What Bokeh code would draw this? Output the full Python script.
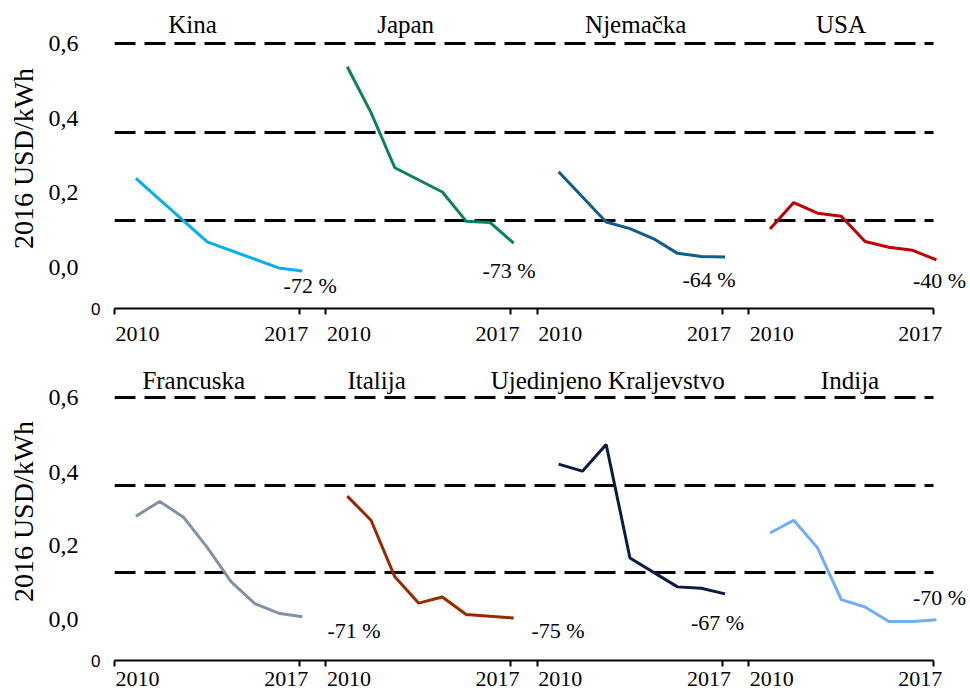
from bokeh.plotting import figure
from bokeh.models import Range1d, FixedTicker, LinearAxis, LabelSet, ColumnDataSource, Grid
from bokeh.layouts import column
from bokeh.embed import file_html
from bokeh.resources import INLINE
from bokeh.core.properties import value

SERIF = "Liberation Serif"
AX_SERIF = "'Liberation Serif', 'Times New Roman', Times, serif"
SANS = "'Liberation Sans', Arial, sans-serif"

# ---------------- data ----------------
TOP_NAMES = ["Kina", "Japan", "Njemačka", "USA"]
BOTTOM_NAMES = ["Francuska", "Italija", "Ujedinjeno Kraljevstvo", "Indija"]

kina_years = [2010, 2013, 2016, 2017]
kina_vals = [0.295, 0.151, 0.092, 0.085]
japan_years = [2010, 2011, 2012, 2014, 2015, 2016, 2017]
japan_vals = [0.548, 0.444, 0.319, 0.264, 0.198, 0.195, 0.148]
njemacka_years = [2010, 2012, 2013, 2014, 2015, 2016, 2017]
njemacka_vals = [0.310, 0.196, 0.181, 0.158, 0.125, 0.118, 0.117]
usa_years = [2010, 2011, 2012, 2013, 2014, 2015, 2016, 2017]
usa_vals = [0.180, 0.240, 0.216, 0.209, 0.152, 0.139, 0.132, 0.110]

francuska_years = [2010, 2011, 2012, 2013, 2014, 2015, 2016, 2017]
francuska_vals = [0.329, 0.363, 0.327, 0.258, 0.180, 0.130, 0.108, 0.100]
italija_years = [2010, 2011, 2012, 2013, 2014, 2015, 2017]
italija_vals = [0.375, 0.320, 0.191, 0.131, 0.145, 0.105, 0.097]
uk_years = [2010, 2011, 2012, 2013, 2015, 2016, 2017]
uk_vals = [0.448, 0.432, 0.493, 0.234, 0.168, 0.165, 0.152]
indija_years = [2010, 2011, 2012, 2013, 2014, 2015, 2016, 2017]
indija_vals = [0.291, 0.320, 0.257, 0.139, 0.122, 0.089, 0.089, 0.093]

TOP_PCT = ["-72 %", "-73 %", "-64 %", "-40 %"]
BOTTOM_PCT = ["-71 %", "-75 %", "-67 %", "-70 %"]

Y_TICK_LABELS = ["0,0", "0,2", "0,4", "0,6"]
X_TICK_LABELS = ["2010", "2017"]
Y_LABEL = "2016 USD/kWh"

TOP_COLORS = ["#00B0F0", "#0B8063", "#0F5E87", "#C00000"]
BOTTOM_COLORS = ["#8193A3", "#992A00", "#0B1A40", "#6EAEF7"]

# ---------------- layout constants ----------------
PANEL_STEP = 8          # x units between panel starts
PANEL_LEN = 7           # x units of a panel's axis segment
DATA_START = 0.81       # where 2010 data sits within a panel
YEAR_STEP = 0.9         # x units per year
X_END = 32.4
Y_TICK_POS = [0.094, 0.262, 0.43, 0.6]
X_LABEL_OFFSETS = [0.875, 6.5]
TOP_TITLE_X = [2.95, 11.02, 19.73, 27.5]
BOTTOM_TITLE_X = [3.0, 9.92, 18.67, 27.84]
TOP_PCT_X = [6.40, 13.93, 21.50, 30.22]
TOP_PCT_Y = [0.052, 0.086, 0.066, 0.063]
BOTTOM_PCT_X = [8.06, 15.78, 21.82, 30.22]
BOTTOM_PCT_Y = [0.068, 0.068, 0.087, 0.144]


def xpos(panel, years):
    return [panel * PANEL_STEP + DATA_START + (y - 2010) * YEAR_STEP for y in years]


def make_row(names, series, colors, title_x, title_y, pct, pct_x, pct_y,
             height, top_border, bottom_border, xlabel_standoff):
    p = figure(width=970, height=height, output_backend="svg", toolbar_location=None,
               x_range=Range1d(0, X_END), y_range=Range1d(0, 0.68),
               x_axis_type=None, y_axis_type=None,
               min_border_left=114, min_border_right=0,
               min_border_top=top_border, min_border_bottom=bottom_border)
    p.outline_line_color = None
    p.background_fill_color = "white"
    p.border_fill_color = "white"

    grid = Grid(dimension=1, ticker=FixedTicker(ticks=[0.2, 0.4, 0.6]))
    grid.grid_line_color = "black"
    grid.grid_line_width = 3
    grid.grid_line_dash = "21 9"
    if "cross_bounds" in Grid.properties():
        grid.cross_bounds = (0, 31)
    p.add_layout(grid)

    # x axis: labels as major ticks, tick marks as minor ticks
    label_pos, overrides, bounds = [], {}, []
    for i in range(4):
        for off, lab in zip(X_LABEL_OFFSETS, X_TICK_LABELS):
            v = i * PANEL_STEP + off
            label_pos.append(v)
            overrides[v] = lab
        bounds += [i * PANEL_STEP, i * PANEL_STEP + PANEL_LEN]
    xax = LinearAxis(ticker=FixedTicker(ticks=label_pos, minor_ticks=bounds),
                     major_label_overrides=overrides, bounds=(0, 31))
    xax.axis_line_color = "black"
    xax.axis_line_width = 2
    xax.major_tick_line_color = None
    xax.major_tick_out = 6
    xax.major_tick_in = 0
    xax.minor_tick_line_color = "black"
    xax.minor_tick_line_width = 2
    xax.minor_tick_in = 0
    xax.minor_tick_out = 6
    xax.major_label_text_font = AX_SERIF
    xax.major_label_text_font_size = "22px"
    xax.major_label_text_color = "black"
    xax.major_label_standoff = xlabel_standoff
    p.add_layout(xax, "below")

    # inner left axis: the lone "0" at the x axis
    zax = LinearAxis(ticker=FixedTicker(ticks=[0], minor_ticks=[]),
                     major_label_overrides={0: "0"})
    zax.axis_line_color = None
    zax.major_tick_line_color = None
    zax.minor_tick_line_color = None
    zax.major_tick_out = 0
    zax.major_tick_in = 0
    zax.major_label_standoff = 14
    zax.major_label_text_font = SANS
    zax.major_label_text_font_size = "17px"
    zax.major_label_text_color = "black"
    p.add_layout(zax, "left")

    yax = LinearAxis(ticker=FixedTicker(ticks=Y_TICK_POS, minor_ticks=[]),
                     major_label_overrides=dict(zip(Y_TICK_POS, Y_TICK_LABELS)),
                     axis_label=Y_LABEL, bounds=(0.09, 0.63))
    yax.axis_line_color = None
    yax.major_tick_line_color = None
    yax.minor_tick_line_color = None
    yax.major_tick_out = 0
    yax.major_tick_in = 0
    yax.major_label_standoff = 10
    yax.major_label_text_font = AX_SERIF
    yax.major_label_text_font_size = "24px"
    yax.major_label_text_color = "black"
    yax.axis_label_text_font = AX_SERIF
    yax.axis_label_text_font_size = "28px"
    yax.axis_label_text_font_style = "normal"
    yax.axis_label_text_color = "black"
    yax.axis_label_standoff = 7
    p.add_layout(yax, "left")

    for i, ((yrs, vals), c) in enumerate(zip(series, colors)):
        p.line(xpos(i, yrs), vals, line_color=c, line_width=3)

    tsrc = ColumnDataSource(dict(x=title_x, y=[title_y] * 4, text=names))
    p.add_layout(LabelSet(x="x", y="y", text="text", source=tsrc,
                          text_font=value(SERIF), text_font_size="25px",
                          text_align="center", text_baseline="alphabetic",
                          text_color="black"))
    psrc = ColumnDataSource(dict(x=pct_x, y=pct_y, text=pct))
    p.add_layout(LabelSet(x="x", y="y", text="text", source=psrc,
                          text_font=value(SERIF), text_font_size="22px",
                          text_align="left", text_baseline="middle",
                          text_color="black"))
    return p


top = make_row(TOP_NAMES,
               [(kina_years, kina_vals), (japan_years, japan_vals),
                (njemacka_years, njemacka_vals), (usa_years, usa_vals)],
               TOP_COLORS, TOP_TITLE_X, 0.625, TOP_PCT, TOP_PCT_X, TOP_PCT_Y,
               height=352, top_border=8, bottom_border=44, xlabel_standoff=12)
bottom = make_row(BOTTOM_NAMES,
                  [(francuska_years, francuska_vals), (italija_years, italija_vals),
                   (uk_years, uk_vals), (indija_years, indija_vals)],
                  BOTTOM_COLORS, BOTTOM_TITLE_X, 0.62, BOTTOM_PCT, BOTTOM_PCT_X, BOTTOM_PCT_Y,
                  height=344, top_border=10, bottom_border=36, xlabel_standoff=5)

layout = column(top, bottom, spacing=0)
open("out.html", "w").write(file_html(layout, INLINE))
